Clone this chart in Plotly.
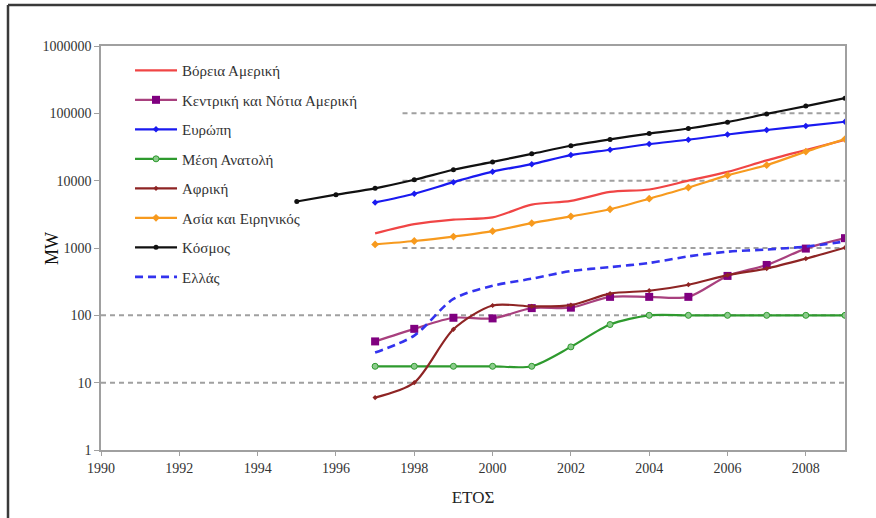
import plotly.graph_objects as go

# Installed wind power capacity (MW) by region, 1995-2009
years_world = list(range(1995, 2010))
years = list(range(1997, 2010))

world = [4900, 6200, 7700, 10300, 14500, 19000, 25000, 33000, 41000, 50000, 59500, 74000, 98000, 128000, 168000]
europe = [4750, 6400, 9500, 13600, 17600, 24000, 28800, 35000, 40500, 48500, 56500, 65000, 75000]
north_america = [1650, 2260, 2640, 2850, 4400, 5000, 6800, 7400, 10000, 13500, 20000, 28500, 40500]
asia_pacific = [1130, 1270, 1480, 1780, 2340, 2950, 3760, 5400, 7900, 12000, 17000, 27000, 41500]
central_south_america = [41, 63, 92, 90, 128, 130, 188, 188, 188, 385, 560, 980, 1400]
africa = [6, 10, 62, 140, 136, 142, 210, 232, 285, 395, 495, 695, 1010]
middle_east = [17.5, 17.5, 17.5, 17.5, 17.5, 34, 73, 100, 100, 100, 100, 100, 100]
greece = [28, 50, 175, 275, 350, 455, 520, 600, 750, 880, 950, 1050, 1250]

x_ticks = list(range(1990, 2009, 2))
y_ticks = [1, 10, 100, 1000, 10000, 100000, 1000000]

SERIF = "Liberation Serif, Times New Roman, serif"

series = [
    dict(name="Βόρεια Αμερική", x=years, y=north_america, color="#F04545", mode="lines", marker=None, dash="solid"),
    dict(name="Κεντρική και Νότια Αμερική", x=years, y=central_south_america, color="#A8407E", mode="lines+markers",
         marker=dict(symbol="square", size=8, color="#800080"), dash="solid"),
    dict(name="Ευρώπη", x=years, y=europe, color="#1A1AF0", mode="lines+markers",
         marker=dict(symbol="diamond", size=5, color="#1A1AF0"), dash="solid"),
    dict(name="Μέση Ανατολή", x=years, y=middle_east, color="#2E9A2E", mode="lines+markers",
         marker=dict(symbol="circle", size=6, color="#8CCB8C", line=dict(color="#2E9A2E", width=1)), dash="solid"),
    dict(name="Αφρική", x=years, y=africa, color="#8E2424", mode="lines+markers",
         marker=dict(symbol="diamond", size=4, color="#8E2424"), dash="solid"),
    dict(name="Ασία και Ειρηνικός", x=years, y=asia_pacific, color="#F79A1E", mode="lines+markers",
         marker=dict(symbol="diamond", size=6, color="#F79A1E"), dash="solid"),
    dict(name="Κόσμος", x=years_world, y=world, color="#111111", mode="lines+markers",
         marker=dict(symbol="circle", size=5, color="#111111"), dash="solid"),
    dict(name="Ελλάς", x=years, y=greece, color="#3333EE", mode="lines", marker=None, dash="8px,5px"),
]

fig = go.Figure()
for i, s in enumerate(series):
    kw = dict(marker=s["marker"]) if s["marker"] else {}
    fig.add_trace(go.Scatter(
        x=s["x"], y=s["y"], name=s["name"], mode=s["mode"],
        line=dict(color=s["color"], width=2.2 if s["dash"] == "solid" else 2.6, dash=s["dash"], shape="spline", smoothing=0.8),
        legendgroup=f"g{i}", **kw,
    ))

# dashed horizontal reference lines; upper ones start right of the legend block
grid_start = {10: 1990, 100: 1990, 1000: 1997.7, 10000: 1997.7, 100000: 1997.7}
for val, x0 in grid_start.items():
    fig.add_shape(type="line", xref="x", yref="y", x0=x0, x1=2009, y0=val, y1=val,
                  line=dict(color="#A0A0A0", width=2, dash="5px,4px"), layer="below")

# outer frame (left and top edges)
fig.add_shape(type="line", xref="paper", yref="paper", x0=-0.125, x1=-0.125, y0=-0.3, y1=1.1015,
              line=dict(color="#3A3A3A", width=2.5))
fig.add_shape(type="line", xref="paper", yref="paper", x0=-0.125, x1=1.2, y0=1.1015, y1=1.1015,
              line=dict(color="#3A3A3A", width=2.5))

fig.add_annotation(text="MW", xref="paper", yref="paper", x=-0.082, y=0.5,
                   textangle=-90, showarrow=False, font=dict(family=SERIF, size=18, color="#111"))

fig.update_layout(
    width=876, height=518,
    margin=dict(l=101, r=31, t=46, b=68),
    paper_bgcolor="white", plot_bgcolor="white",
    font=dict(family=SERIF, size=14, color="#333"),
    showlegend=True,
    legend=dict(x=0.039, y=0.98, xanchor="left", yanchor="top",
                bgcolor="rgba(0,0,0,0)", borderwidth=0,
                font=dict(family=SERIF, size=15, color="#333"),
                traceorder="grouped", tracegroupgap=7, itemwidth=42),
    xaxis=dict(range=[1990, 2009], tickvals=x_ticks, ticktext=[str(v) for v in x_ticks],
               showgrid=False, zeroline=False, showline=True, linecolor="#A0A0A0", linewidth=1.5,
               mirror=True, ticks="outside", ticklen=4, tickcolor="#A0A0A0",
               tickfont=dict(family=SERIF, size=14, color="#333"),
               title=dict(text="ΕΤΟΣ", font=dict(family=SERIF, size=17, color="#222"), standoff=17)),
    yaxis=dict(type="log", range=[0, 6], tickvals=y_ticks, ticktext=[str(v) for v in y_ticks],
               showgrid=False, zeroline=False, showline=True, linecolor="#A0A0A0", linewidth=1.5,
               mirror=True, ticks="outside", ticklen=5, tickcolor="#A0A0A0",
               tickfont=dict(family=SERIF, size=14, color="#333")),
)

fig.write_html("out.html")
